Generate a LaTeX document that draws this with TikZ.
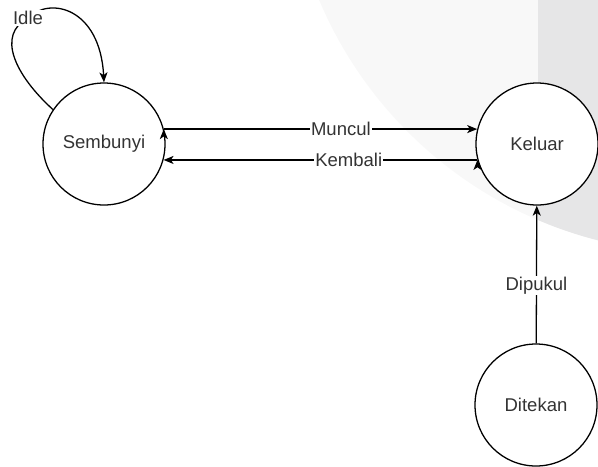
\documentclass[tikz,border=0pt]{standalone}
\usepackage{fontspec}
\setmainfont{Liberation Sans}
\usetikzlibrary{arrows.meta}
\definecolor{bglight}{HTML}{F8F8F8}
\definecolor{bgdark}{HTML}{E6E6E7}
\definecolor{txt}{HTML}{333333}
\begin{document}
\begin{tikzpicture}[x=0.03cm, y=-0.03cm,
  state/.style={shape=circle, draw=black, line width=1.1pt, fill=white, minimum size=3.66cm, inner sep=0pt, text=txt},
  arr/.style={-{Stealth[length=0.3cm, width=0.24cm, inset=0.08cm]}, line width=1.1pt, draw=black},
  lbl/.style={fill=white, inner sep=1pt, text=txt},
  font=\fontsize{15.8pt}{18pt}\selectfont]
\clip (0,0) rectangle (598,466);
% background shape
\fill[bglight] (700,-160) circle[radius=12.39cm];
\begin{scope}
\clip (700,-160) circle[radius=12.39cm];
\fill[bgdark] (538,-10) rectangle (610,480);
\end{scope}
% states
\node[state] (S) at (104,144) {Sembunyi};
\node[state] (K) at (537,144) {Keluar};
\node[state] (D) at (536,405) {Ditekan};
\coordinate (I) at (28,18);
% transitions
\path [arr] (S.14) edge node[lbl, pos=0.565] {Muncul} (K.166);
\path [arr] (K.195) edge node[lbl, pos=0.41] {Kembali} (S.345);
\path [arr] (D) edge node[lbl, pos=0.42] {Dipukul} (K);
\draw [arr] (S.146) .. controls (15,75) and (-4,35) .. (I)
  .. controls (50,-4) and (100,8) .. (S.north);
\node[lbl] (idle) at (I) {Idle};
\end{tikzpicture}
\end{document}
